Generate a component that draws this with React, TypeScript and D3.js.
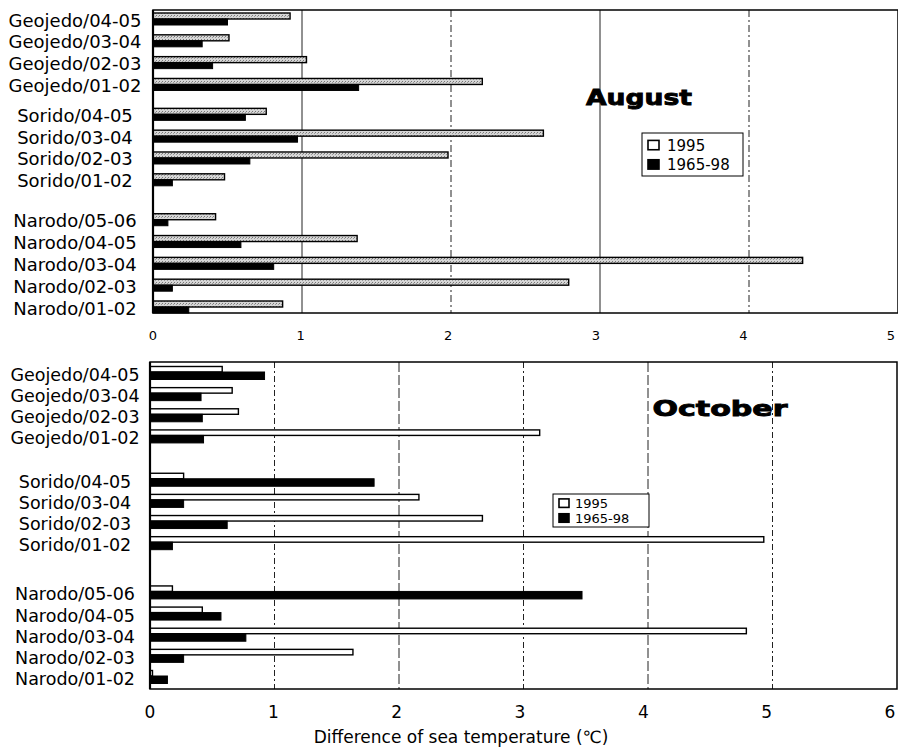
import React from "react";
import * as d3 from "d3";

const categories = [
  "Geojedo/04-05", "Geojedo/03-04", "Geojedo/02-03", "Geojedo/01-02",
  "Sorido/04-05", "Sorido/03-04", "Sorido/02-03", "Sorido/01-02",
  "Narodo/05-06", "Narodo/04-05", "Narodo/03-04", "Narodo/02-03", "Narodo/01-02",
];
const seriesNames = ["1995", "1965-98"];
const aug1995 = [0.92, 0.51, 1.03, 2.21, 0.76, 2.62, 1.98, 0.48, 0.42, 1.37, 4.36, 2.79, 0.87];
const aug6598 = [0.5, 0.33, 0.4, 1.38, 0.62, 0.97, 0.65, 0.13, 0.1, 0.59, 0.81, 0.13, 0.24];
const oct1995 = [0.58, 0.66, 0.71, 3.13, 0.27, 2.16, 2.67, 4.93, 0.18, 0.42, 4.79, 1.63, 0.02];
const oct6598 = [0.92, 0.41, 0.42, 0.43, 1.8, 0.27, 0.62, 0.18, 3.47, 0.57, 0.77, 0.27, 0.14];
const augTicks = [0, 1, 2, 3, 4, 5];
const octTicks = [0, 1, 2, 3, 4, 5, 6];
const axisTitle = "Difference of sea temperature (℃)";

const FONT = "'DejaVu Sans', sans-serif";

type PanelCfg = {
  title: string;
  a: number[];
  b: number[];
  ticks: number[];
  xMax: number;
  left: number;
  right: number;
  top: number;
  bottom: number;
  firstY: number;
  lastY: number;
  gaps: number[];
  labelSize: number;
  tickY: number;
  tickSize: number;
  tickShift: number;
  barA: [number, number];
  barB: [number, number];
  fillA: string;
  titleX: number;
  titleY: number;
  titleLen: number;
  legend: { x: number; y: number; w: number; h: number; size: number; sq: number; dy: number };
  grid: { v: number; dash: string }[];
};

function slots(cats: string[], gaps: number[]) {
  const out: number[] = [];
  let s = 0;
  let g = 0;
  cats.forEach((c, i) => {
    if (i > 0) {
      const prev = cats[i - 1].split("/")[0];
      const cur = c.split("/")[0];
      s += 1;
      if (prev !== cur) {
        s += gaps[g] || 0;
        g++;
      }
    }
    out.push(s);
  });
  return out;
}

function Panel({ cfg }: { cfg: PanelCfg }) {
  const x = d3.scaleLinear().domain([0, cfg.xMax]).range([cfg.left, cfg.right]);
  const sl = slots(categories, cfg.gaps);
  const y = d3.scaleLinear().domain([0, sl[sl.length - 1]]).range([cfg.firstY, cfg.lastY]);
  const lg = cfg.legend;
  return (
    <g>
      {cfg.grid.map((g) => (
        <line key={g.v} x1={x(g.v)} x2={x(g.v)} y1={cfg.top} y2={cfg.bottom}
          stroke="#222" strokeWidth={1} strokeDasharray={g.dash} />
      ))}
      {categories.map((c, i) => {
        const cy = y(sl[i]);
        return (
          <g key={c}>
            <text x={75} y={cy} textAnchor="middle" dominantBaseline="central"
              fontSize={cfg.labelSize} fontFamily={FONT} fill="#000">{c}</text>
            <rect x={x(0)} y={cy + cfg.barA[0]} width={x(cfg.a[i]) - x(0)} height={cfg.barA[1]}
              fill={cfg.fillA} stroke="#000" strokeWidth={1.4} />
            <rect x={x(0)} y={cy + cfg.barB[0]} width={x(cfg.b[i]) - x(0)} height={cfg.barB[1]}
              fill="#000" stroke="#000" strokeWidth={1} />
          </g>
        );
      })}
      <rect x={cfg.left} y={cfg.top} width={cfg.right - cfg.left} height={cfg.bottom - cfg.top}
        fill="none" stroke="#000" strokeWidth={1.5} />
      <line x1={cfg.left} x2={cfg.left} y1={cfg.top} y2={cfg.bottom} stroke="#000" strokeWidth={2.2} />
      {cfg.ticks.map((t) => (
        <text key={t} x={x(t) - (t / cfg.xMax) * cfg.tickShift} y={cfg.tickY} textAnchor="middle"
          dominantBaseline="central" fontSize={cfg.tickSize} fontFamily={FONT} fill="#000">{t}</text>
      ))}
      <text x={cfg.titleX} y={cfg.titleY} textAnchor="middle" dominantBaseline="central"
        fontSize={22} fontWeight="bold" fontFamily={FONT} fill="#000" stroke="#000" strokeWidth={0.9}
        textLength={cfg.titleLen} lengthAdjust="spacingAndGlyphs">{cfg.title}</text>
      <rect x={lg.x} y={lg.y} width={lg.w} height={lg.h} fill="#fff" stroke="#000" strokeWidth={1} />
      {seriesNames.map((s, i) => {
        const cy = lg.y + lg.h * (i === 0 ? 0.3 : 0.75);
        return (
          <g key={s}>
            <rect x={lg.x + 6} y={cy - lg.sq / 2} width={lg.sq} height={lg.sq * 0.85}
              fill={i === 0 ? "#fff" : "#000"} stroke="#000" strokeWidth={1.6} />
            <text x={lg.x + 8 + lg.sq + lg.dy} y={cy} dominantBaseline="central"
              fontSize={lg.size} fontFamily={FONT} fill="#000">{s}</text>
          </g>
        );
      })}
    </g>
  );
}

const augCfg: PanelCfg = {
  title: "August",
  a: aug1995,
  b: aug6598,
  ticks: augTicks,
  xMax: 5,
  left: 153,
  right: 898,
  top: 10,
  bottom: 313,
  firstY: 20,
  lastY: 308,
  gaps: [0.37, 0.83],
  labelSize: 18,
  tickY: 335,
  tickSize: 13,
  tickShift: 7,
  barA: [-7, 6],
  barB: [-1, 6],
  fillA: "url(#dots)",
  titleX: 639,
  titleY: 97,
  titleLen: 106,
  legend: { x: 642, y: 133, w: 101, h: 43, size: 15, sq: 11, dy: 6 },
  grid: [
    { v: 1, dash: "none" },
    { v: 2, dash: "7,3,2,3" },
    { v: 3, dash: "none" },
    { v: 4, dash: "7,3,2,3" },
  ],
};

const octCfg: PanelCfg = {
  title: "October",
  a: oct1995,
  b: oct6598,
  ticks: octTicks,
  xMax: 6,
  left: 150,
  right: 897,
  top: 362,
  bottom: 689,
  firstY: 375,
  lastY: 679,
  gaps: [1.05, 1.33],
  labelSize: 17.5,
  tickY: 712,
  tickSize: 17,
  tickShift: 7,
  barA: [-8.5, 5.5],
  barB: [-3, 7.5],
  fillA: "#fff",
  titleX: 720,
  titleY: 408,
  titleLen: 135,
  legend: { x: 553, y: 494, w: 96, h: 33, size: 13, sq: 10, dy: 4 },
  grid: [
    { v: 1, dash: "6,3,2,3" },
    { v: 2, dash: "10,3" },
    { v: 3, dash: "6,3,2,3" },
    { v: 4, dash: "10,3" },
    { v: 5, dash: "6,3,2,3" },
  ],
};

export default function App() {
  return (
    <svg width={898} height={748} style={{ position: "absolute", left: 0, top: 0, background: "#fff" }}
      fontFamily={FONT}>
      <defs>
        <pattern id="dots" width={3} height={3} patternUnits="userSpaceOnUse">
          <rect width={3} height={3} fill="#d6d6d6" />
          <rect x={0} y={0} width={1} height={1} fill="#777" />
          <rect x={2} y={1} width={1} height={1} fill="#999" />
        </pattern>
      </defs>
      <rect width={898} height={748} fill="#fff" />
      <Panel cfg={augCfg} />
      <Panel cfg={octCfg} />
      <text x={461} y={737} textAnchor="middle" dominantBaseline="central" fontSize={17}
        fontFamily={FONT} fill="#000">{axisTitle}</text>
    </svg>
  );
}
